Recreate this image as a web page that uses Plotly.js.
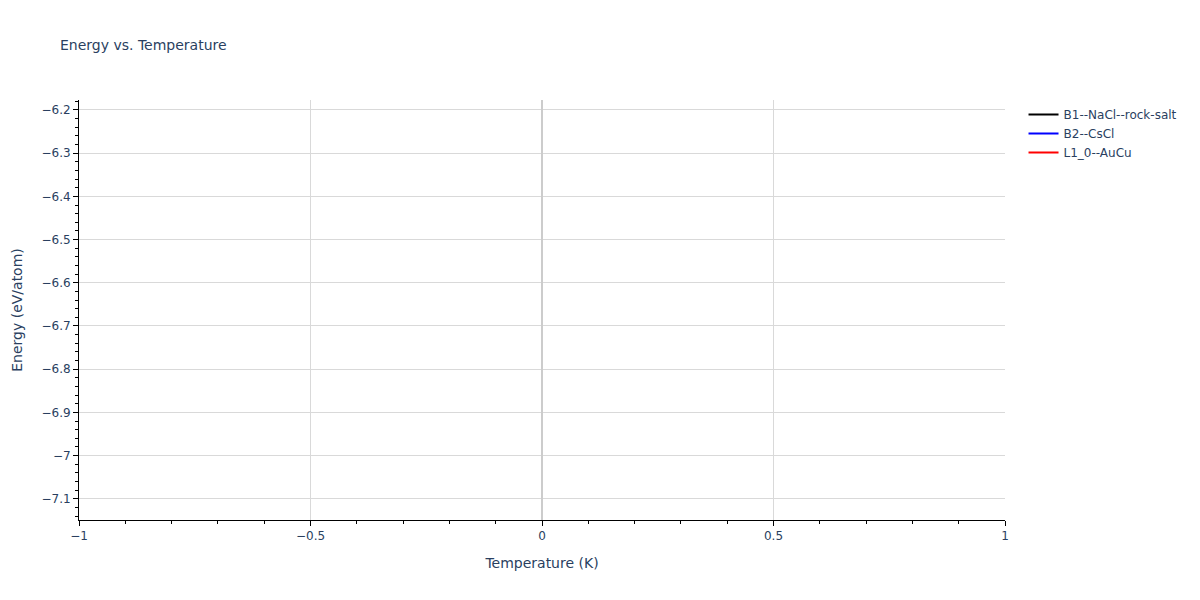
<!DOCTYPE html>
<html>
<head>
<meta charset="utf-8">
<script src="https://cdn.plot.ly/plotly-3.0.1.min.js"></script>
<style>html,body{margin:0;padding:0;background:#fff}</style>
</head>
<body>
<div id="chart" style="width:1200px;height:600px"></div>
<script>
// Data (no visible points in the reference: each series is empty)
var seriesNames = ["B1--NaCl--rock-salt", "B2--CsCl", "L1_0--AuCu"];
var seriesColors = ["black", "blue", "red"];
var tempB1 = [null], energyB1 = [null];
var tempB2 = [null], energyB2 = [null];
var tempL10 = [null], energyL10 = [null];

var xs = [tempB1, tempB2, tempL10];
var ys = [energyB1, energyB2, energyL10];

var traces = seriesNames.map(function (n, i) {
  return { x: xs[i], y: ys[i], name: n, mode: "lines", type: "scatter",
           line: { color: seriesColors[i], width: 2 }, showlegend: true };
});

var axisCommon = {
  showline: true, linecolor: "black", linewidth: 1,
  ticks: "outside", tickcolor: "black", ticklen: 5,
  gridcolor: "#d9d9d9", gridwidth: 1,
  tickfont: { size: 12, color: "#2a3f5f" },
  automargin: false
};

var layout = {
  width: 1200, height: 600,
  paper_bgcolor: "white", plot_bgcolor: "white",
  font: { family: "DejaVu Sans, Verdana, sans-serif", color: "#2a3f5f", size: 12 },
  title: { text: "Energy vs. Temperature", x: 0.05, xanchor: "left", y: 0.925, yanchor: "middle", font: { size: 14 } },
  margin: { l: 79, r: 195, t: 100, b: 80 },
  xaxis: Object.assign({}, axisCommon, {
    title: { text: "Temperature (K)", font: { size: 14 }, standoff: 15 },
    range: [-1, 1], dtick: 0.5, zeroline: true, zerolinecolor: "#cccccc", zerolinewidth: 2,
    minor: { ticks: "outside", ticklen: 3, tickcolor: "black", dtick: 0.1, showgrid: false }
  }),
  yaxis: Object.assign({}, axisCommon, {
    title: { text: "Energy (eV/atom)", font: { size: 14 }, standoff: 15 },
    range: [-7.149, -6.177], dtick: 0.1, zeroline: false,
    minor: { ticks: "outside", ticklen: 3, tickcolor: "black", dtick: 0.02, showgrid: false }
  }),
  legend: { x: 1.02, y: 1, xanchor: "left", yanchor: "top", font: { size: 12 } },
  showlegend: true
};

Plotly.newPlot("chart", traces, layout, { displayModeBar: false });
</script>
</body>
</html>
